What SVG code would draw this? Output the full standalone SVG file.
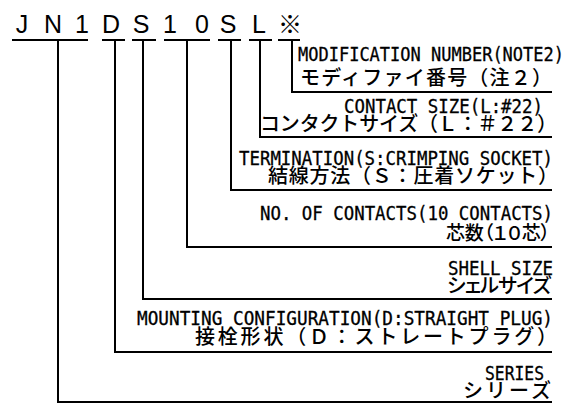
<svg xmlns="http://www.w3.org/2000/svg" width="588" height="404" viewBox="0 0 588 404">
<style>
.code{font-family:"Liberation Sans",Arial,sans-serif;font-size:25px;fill:#000;text-anchor:middle}
.cjkc{font-family:"Noto Sans CJK JP",sans-serif;font-size:24px;fill:#000;text-anchor:middle}
.en{font-family:"DejaVu Sans Mono",monospace;font-size:19px;fill:#000;stroke:#000;stroke-width:0.3;text-anchor:end}
.jp{font-family:"Noto Sans CJK JP",sans-serif;font-size:20px;font-weight:500;fill:#000;text-anchor:end}
.palt{font-feature-settings:"palt" 1}
.ul{stroke:#000;stroke-width:2;fill:none}
.ln{stroke:#000;stroke-width:2;fill:none}
</style>
<rect width="588" height="404" fill="#fff"/>
<g id="code">
<text class="code" x="22" y="33">J</text>
<text class="code" x="53" y="33">N</text>
<text class="code" x="82" y="33">1</text>
<text class="code" x="111" y="33">D</text>
<text class="code" x="141" y="33">S</text>
<text class="code" x="170" y="33">1</text>
<text class="code" x="202" y="33">0</text>
<text class="code" x="228" y="33">S</text>
<text class="code" x="259" y="33">L</text>
<text class="cjkc" x="290" y="33">※</text>
<path class="ul" d="M12,40H88M102,40H125M132,40H156M164,40H210M218,40H241M249,40H272M278,40H300"/>
</g>
<g id="connectors">
<path class="ln" d="M292,40V92H552"/>
<path class="ln" d="M260,40V137H552"/>
<path class="ln" d="M231,40V190H552"/>
<path class="ln" d="M187,40V247H552"/>
<path class="ln" d="M143,40V299H552"/>
<path class="ln" d="M115,40V352H552"/>
<path class="ln" d="M58,40V402H552"/>
</g>
<g id="modification">
<text class="en" x="298" y="61" style="text-anchor:start" textLength="266" lengthAdjust="spacingAndGlyphs">MODIFICATION NUMBER(NOTE2)</text>
<text class="jp" x="300" y="85" style="text-anchor:start" textLength="252" lengthAdjust="spacing">モディファイ番号（注２）</text>
</g>
<g id="contact-size">
<text class="en" x="543" y="113" textLength="199" lengthAdjust="spacingAndGlyphs">CONTACT SIZE(L:#22)</text>
<text class="jp" x="557" y="131" textLength="297" lengthAdjust="spacing">コンタクトサイズ（Ｌ：＃２２）</text>
</g>
<g id="termination">
<text class="en" x="553" y="165" textLength="314" lengthAdjust="spacingAndGlyphs">TERMINATION(S:CRIMPING SOCKET)</text>
<text class="jp" x="558" y="183" textLength="290" lengthAdjust="spacing">結線方法（Ｓ：圧着ソケット）</text>
</g>
<g id="contacts">
<text class="en" x="553" y="220" textLength="293" lengthAdjust="spacingAndGlyphs">NO. OF CONTACTS(10 CONTACTS)</text>
<text class="jp palt" x="550" y="240" style="font-size:19px" textLength="104" lengthAdjust="spacing">芯数（１０芯）</text>
</g>
<g id="shell-size">
<text class="en" x="553" y="275" textLength="105" lengthAdjust="spacingAndGlyphs">SHELL SIZE</text>
<text class="jp palt" x="551" y="293" textLength="104" lengthAdjust="spacing">シェルサイズ</text>
</g>
<g id="mounting">
<text class="en" x="553" y="325" textLength="416" lengthAdjust="spacingAndGlyphs">MOUNTING CONFIGURATION(D:STRAIGHT PLUG)</text>
<text class="jp" x="557" y="344" textLength="362" lengthAdjust="spacing">接栓形状（Ｄ：ストレートプラグ）</text>
</g>
<g id="series">
<text class="en" x="544" y="380" textLength="59" lengthAdjust="spacingAndGlyphs">SERIES</text>
<text class="jp" x="551" y="398" textLength="88" lengthAdjust="spacing">シリーズ</text>
</g>
</svg>
